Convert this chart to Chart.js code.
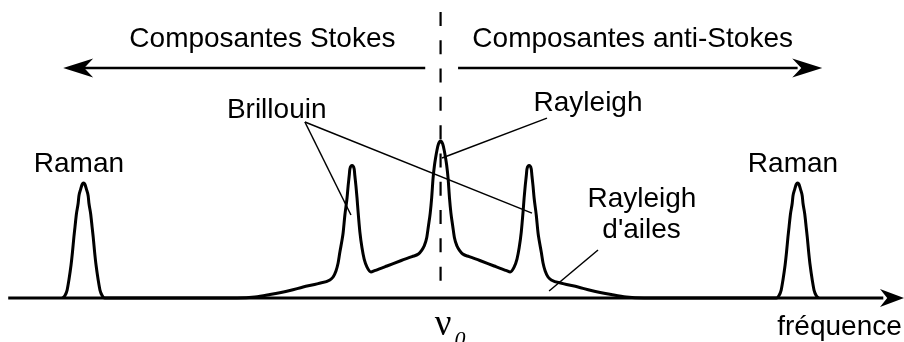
<!DOCTYPE html>
<html>
<head>
<meta charset="utf-8">
<script src="https://cdn.jsdelivr.net/npm/chart.js@4/dist/chart.umd.min.js"></script>
<style>
  html, body { margin: 0; padding: 0; background: #fff; }
  #wrap { width: 904px; height: 342px; position: relative; }
</style>
</head>
<body>
<div id="wrap"><canvas id="spectrumChart"></canvas></div>
<script>
// Frequency shift from the laser line (nu0 = 0), arbitrary units; intensity in % of the Rayleigh line
const ramanStokesShift = [-105.9, -105.2, -104.6, -104.1, -103.5, -103.1, -102.7, -102.4, -102.0, -101.5, -101.3, -100.8, -100.4, -100.0,
  -99.6, -99.2, -98.7, -98.5, -98.0, -97.6, -97.3, -96.9, -96.5, -95.9, -95.4, -94.8, -94.1];
const ramanAntiStokesShift = [94.1, 94.8, 95.4, 95.9, 96.5, 96.9, 97.3, 97.6, 98.0, 98.5, 98.7, 99.2, 99.6, 100.0,
  100.4, 100.8, 101.3, 101.5, 102.0, 102.4, 102.7, 103.1, 103.5, 104.1, 104.6, 105.2, 105.9];
const ramanIntensity = [0, 1.6, 5.1, 11.5, 21.0, 29.3, 38.9, 45.2, 53.5, 60.5, 65.0, 69.4, 72.3, 73.2,
  72.3, 69.4, 65.0, 60.5, 53.5, 45.2, 38.9, 29.3, 21.0, 11.5, 5.1, 1.6, 0];

// Rayleigh line with its wings and the two Brillouin doublet lines
const centralShift = [
  -57.0, -52.0, -47.8, -42.2, -38.5, -34.3, -31.0,
  -30.1, -29.3, -28.7, -28.2, -27.6, -27.3, -26.8, -26.2, -25.9, -25.6, -25.4, -24.8,
  -24.2, -24.0, -23.7, -23.4, -23.1, -22.6, -22.0, -21.4, -20.6, -19.5,
  -18.5, -15.0, -11.0, -8.0,
  -6.2, -5.3, -4.6, -3.9, -3.4, -2.9, -2.5, -2.1, -1.7, -1.4, -1.0, -0.6, 0,
  0.6, 1.0, 1.4, 1.7, 2.1, 2.5, 2.9, 3.4, 3.9, 4.6, 5.3, 6.2,
  8.0, 11.0, 15.0, 18.5,
  19.5, 20.6, 21.4, 22.0, 22.6, 23.1, 23.4, 23.7, 24.0, 24.2, 24.8,
  25.4, 25.6, 25.9, 26.2, 26.8, 27.3, 27.6, 28.2, 28.7, 29.3, 30.1,
  31.0, 34.3, 38.5, 42.2, 47.8, 52.0, 57.0
];
const centralIntensity = [
  0, 0.6, 2.2, 4.8, 7.0, 9.2, 11.5,
  13.4, 17.2, 22.3, 29.3, 36.9, 41.4, 52.9, 63.7, 71.3, 77.7, 82.2, 84.4,
  82.2, 77.7, 71.3, 63.7, 54.8, 42.0, 31.8, 24.8, 19.7, 16.6,
  17.4, 20.4, 23.9, 26.4,
  28.0, 30.3, 33.1, 38.2, 45.9, 54.1, 63.7, 76.4, 84.7, 89.2, 94.3, 98.1, 100,
  98.1, 94.3, 89.2, 84.7, 76.4, 63.7, 54.1, 45.9, 38.2, 33.1, 30.3, 28.0,
  26.4, 23.9, 20.4, 17.4,
  16.6, 19.7, 24.8, 31.8, 42.0, 54.8, 63.7, 71.3, 77.7, 82.2, 84.4,
  82.2, 77.7, 71.3, 63.7, 52.9, 41.4, 36.9, 29.3, 22.3, 17.2, 13.4,
  11.5, 9.2, 7.0, 4.8, 2.2, 0.6, 0
];

const sideLabels = ['Composantes Stokes', 'Composantes anti-Stokes'];
const axisLabel = 'fréquence';

function toPoints(xs, ys) {
  return xs.map((x, i) => ({ x: x, y: ys[i] }));
}

const spectrum = [].concat(
  toPoints(ramanStokesShift, ramanIntensity),
  toPoints(centralShift, centralIntensity),
  toPoints(ramanAntiStokesShift, ramanIntensity)
);

const SANS = '28px "Liberation Sans", Arial, sans-serif';

// labels, leader lines, arrows and the frequency axis
const schemePlugin = {
  id: 'scheme',
  beforeDatasetsDraw(chart) {
    const ctx = chart.ctx;
    const X = v => chart.scales.x.getPixelForValue(v);
    const Y = v => chart.scales.y.getPixelForValue(v);

    function seg(x1, y1, x2, y2, w) {
      ctx.lineWidth = w;
      ctx.beginPath();
      ctx.moveTo(X(x1), Y(y1));
      ctx.lineTo(X(x2), Y(y2));
      ctx.stroke();
    }
    // notched arrow head, dir = +1 points right, -1 points left
    function head(xTip, yv, dir, len, half) {
      const tx = X(xTip), ty = Y(yv);
      ctx.beginPath();
      ctx.moveTo(tx, ty);
      ctx.lineTo(tx - dir * len, ty - half);
      ctx.lineTo(tx - dir * len * 0.7, ty);
      ctx.lineTo(tx - dir * len, ty + half);
      ctx.closePath();
      ctx.fill();
    }
    function text(str, xv, yv, align, font) {
      ctx.font = font || SANS;
      ctx.textAlign = align || 'center';
      ctx.textBaseline = 'alphabetic';
      ctx.fillText(str, X(xv), Y(yv));
    }

    ctx.save();
    ctx.strokeStyle = '#000';
    ctx.fillStyle = '#000';
    ctx.lineCap = 'butt';

    // frequency axis
    seg(-121.1, 0, 124.0, 0, 3);
    head(129.8, 0, 1, 24, 9);

    // Stokes / anti-Stokes arrows
    seg(-4.3, 146.5, -100.0, 146.5, 2.5);
    head(-105.7, 146.5, -1, 30, 9.5);
    seg(4.9, 146.5, 100.0, 146.5, 2.5);
    head(106.9, 146.5, 1, 30, 9.5);

    // nu0 marker
    ctx.setLineDash([14, 14.3]);
    seg(0, 182.2, 0, 9.6, 2.2);
    ctx.setLineDash([]);

    // leader lines
    seg(-38.0, 112.1, -25.1, 52.9, 1.5);
    seg(-38.0, 112.1, 25.6, 54.1, 1.5);
    seg(29.8, 114.6, 0.4, 89.2, 1.5);
    seg(44.1, 30.6, 30.4, 4.5, 1.5);

    // texts
    text(sideLabels[0], -49.9, 159.9);
    text(sideLabels[1], 53.8, 159.9);
    text('Brillouin', -45.9, 114.6);
    text('Rayleigh', 41.3, 119.0);
    text('Raman', -101.3, 80.3);
    text('Raman', 98.7, 80.3);
    text('Rayleigh', 56.4, 58.0);
    text("d'ailes", 56.3, 38.2);
    text(axisLabel, 94.3, -23.6, 'left');
    text('\u03bd', -1.6, -23.6, 'left', '37px "Liberation Serif", serif');
    text('0', 3.9, -30.6, 'left', 'italic 22px "Liberation Serif", serif');

    ctx.restore();
  }
};

new Chart(document.getElementById('spectrumChart').getContext('2d'), {
  type: 'line',
  data: {
    datasets: [{
      label: 'Spectre de diffusion',
      data: spectrum,
      borderColor: '#000',
      borderWidth: 3,
      pointRadius: 0,
      fill: false,
      cubicInterpolationMode: 'monotone'
    }]
  },
  options: {
    responsive: true,
    maintainAspectRatio: false,
    animation: false,
    layout: { padding: 0 },
    plugins: {
      legend: { display: false },
      tooltip: { enabled: false }
    },
    scales: {
      x: { type: 'linear', min: -123.4, max: 129.8, display: false },
      y: { type: 'linear', min: -28.0, max: 189.8, display: false }
    }
  },
  plugins: [schemePlugin]
});
</script>
</body>
</html>
